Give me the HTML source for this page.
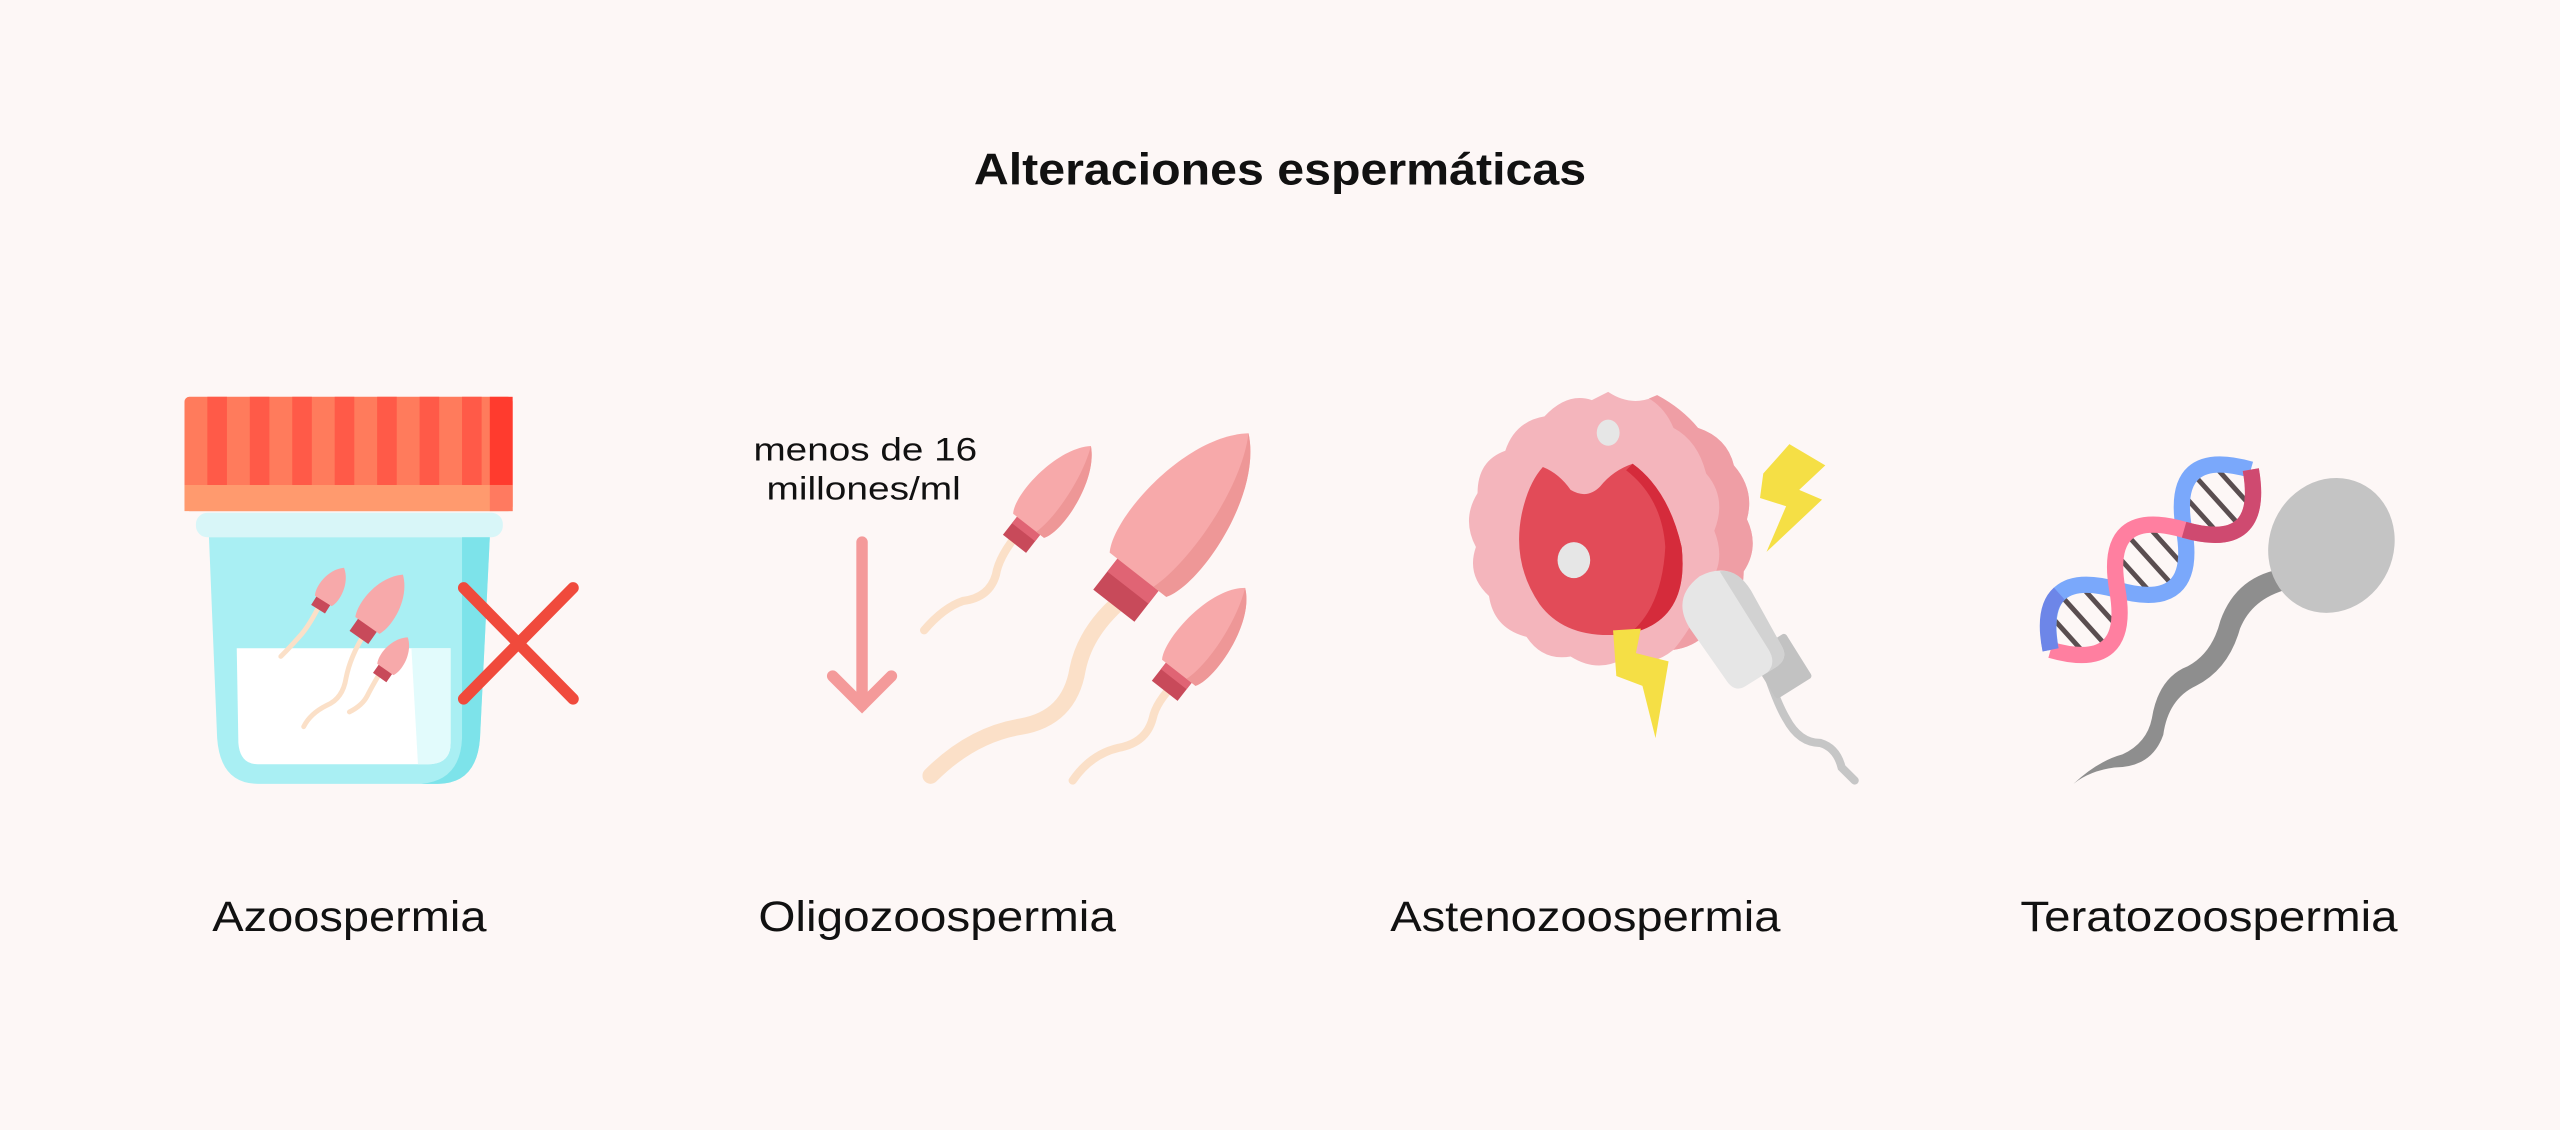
<!DOCTYPE html>
<html><head><meta charset="utf-8"><style>
html,body{margin:0;padding:0;background:#fdf7f6;}
svg{display:block;}
text{font-family:"Liberation Sans",sans-serif;fill:#111;}
</style></head><body>
<svg width="2560" height="1130" viewBox="0 0 1568 692" preserveAspectRatio="none" xmlns="http://www.w3.org/2000/svg">
<rect width="1568" height="692" fill="#fdf7f6"/>
<text x="784" y="113" text-anchor="middle" font-size="27" font-weight="bold" textLength="375" lengthAdjust="spacingAndGlyphs">Alteraciones espermáticas</text>

<!-- JAR -->
<rect x="113" y="243" width="201" height="70" rx="3" fill="#ff7b5c"/>
<g fill="#ff5a48">
<rect x="127" y="243" width="12" height="54"/><rect x="153" y="243" width="12" height="54"/><rect x="179" y="243" width="12" height="54"/><rect x="205" y="243" width="12" height="54"/><rect x="231" y="243" width="12" height="54"/><rect x="257" y="243" width="12" height="54"/><rect x="283" y="243" width="12" height="54"/>
</g>
<rect x="300" y="243" width="14" height="54" fill="#ff3b2e"/>
<rect x="113" y="297" width="201" height="16" fill="#ff9a6e"/>
<rect x="300" y="297" width="14" height="16" fill="#ff7a60"/>
<rect x="120" y="314" width="188" height="15" rx="7" fill="#d8f6f8"/>
<path d="M128,329 H300 L294,452 Q292,480 268,480 H158 Q135,480 133,452 Z" fill="#a9eff3"/>
<path d="M283,329 H300 L294,452 Q292,480 268,480 H258 Q282,478 283,452 Z" fill="#7de3ea"/>
<path d="M145,397 H276 V455 Q276,468 262,468 H158 Q147,468 146,455 Z" fill="#ffffff"/>
<path d="M252,397 H276 V455 Q276,468 262,468 H256 Z" fill="#e2fbfc"/>
<g fill="none" stroke="#fbe0c8" stroke-width="3" stroke-linecap="round">
<path d="M196,370 Q190,382 185,388 Q178,396 172,402"/>
<path d="M226,384 Q215,400 212,415 Q210,428 200,432 Q190,437 186,445"/>
<path d="M234,410 Q228,420 225,426 Q222,432 214,436"/>
</g>
<g transform="translate(198,368) rotate(32)"><rect x="-5" y="-2" width="10" height="8" fill="#c84a5a"/><path d="M0,-24 C8,-18 9,-5 6,0 L-6,0 C-9,-5 -8,-18 0,-24Z" fill="#f7a9aa"/></g>
<g transform="translate(225,383) rotate(35)"><rect x="-7" y="-2" width="14" height="11" fill="#c84a5a"/><path d="M0,-38 C12,-28 13,-8 9,0 L-9,0 C-13,-8 -12,-28 0,-38Z" fill="#f7a9aa"/></g>
<g transform="translate(236,410) rotate(35)"><rect x="-5" y="-2" width="10" height="8" fill="#c84a5a"/><path d="M0,-24 C8,-18 9,-5 6,0 L-6,0 C-9,-5 -8,-18 0,-24Z" fill="#f7a9aa"/></g>
<g stroke="#f04a3c" stroke-width="7" stroke-linecap="round"><line x1="284" y1="360" x2="351" y2="428"/><line x1="351" y1="360" x2="284" y2="428"/></g>
<text x="214" y="570" text-anchor="middle" font-size="26" textLength="168" lengthAdjust="spacingAndGlyphs">Azoospermia</text>

<!-- OLIGO -->
<text x="530" y="282" text-anchor="middle" font-size="20" textLength="137" lengthAdjust="spacingAndGlyphs">menos de 16</text>
<text x="529" y="306" text-anchor="middle" font-size="20" textLength="119" lengthAdjust="spacingAndGlyphs">millones/ml</text>
<g stroke="#f49a9a" stroke-width="7" stroke-linecap="round" fill="none"><line x1="528" y1="332" x2="528" y2="432"/><polyline points="510,414 528,432 546,414"/></g>
<g fill="none" stroke="#fbe0c8" stroke-linecap="round">
<path d="M625,325 Q612,340 610,352 Q606,366 590,368 Q578,372 566,386" stroke-width="5"/>
<path d="M690,365 Q665,385 660,410 Q655,440 625,445 Q595,450 570,475" stroke-width="10"/>
<path d="M720,418 Q708,430 706,440 Q702,455 685,458 Q668,462 657,478" stroke-width="5"/>
</g>
<g transform="translate(630,322) rotate(38)"><rect x="-9" y="-2" width="18" height="16" fill="#c84a5a"/><rect x="-9" y="-2" width="18" height="7" fill="#e06474"/><path d="M0,-62 C16,-48 19,-10 12,0 L-12,0 C-19,-10 -16,-48 0,-62Z" fill="#f7a9aa"/><path d="M0,-62 C16,-48 19,-10 12,0 L6,0 C10,-14 8,-44 0,-62Z" fill="#ee9797"/></g>
<g transform="translate(697,352) rotate(38)"><rect x="-16" y="-2" width="32" height="26" fill="#c84a5a"/><rect x="-16" y="-2" width="32" height="12" fill="#e06474"/><path d="M0,-110 C30,-85 34,-18 22,0 L-22,0 C-34,-18 -30,-85 0,-110Z" fill="#f7a9aa"/><path d="M0,-110 C30,-85 34,-18 22,0 L12,0 C20,-24 18,-80 0,-110Z" fill="#ee9797"/></g>
<g transform="translate(722,412) rotate(38)"><rect x="-10" y="-2" width="20" height="16" fill="#c84a5a"/><rect x="-10" y="-2" width="20" height="7" fill="#e06474"/><path d="M0,-66 C18,-52 20,-10 13,0 L-13,0 C-20,-10 -18,-52 0,-66Z" fill="#f7a9aa"/><path d="M0,-66 C18,-52 20,-10 13,0 L6,0 C11,-14 9,-46 0,-66Z" fill="#ee9797"/></g>
<text x="574" y="570" text-anchor="middle" font-size="26" textLength="219" lengthAdjust="spacingAndGlyphs">Oligozoospermia</text>

<!-- ASTENO -->
<path d="M985,240 Q1000,250 1015,242 Q1030,250 1040,262 Q1058,268 1062,285 Q1075,300 1070,318 Q1078,335 1068,350 Q1068,370 1050,378 Q1045,395 1025,398 Q1010,410 993,404 Q978,412 962,402 Q945,405 935,390 Q915,385 912,365 Q898,352 904,335 Q895,318 905,302 Q905,282 922,276 Q928,258 946,255 Q960,240 975,245 Z" fill="#f4b5bc"/>
<path d="M1015,242 Q1030,250 1040,262 Q1058,268 1062,285 Q1075,300 1070,318 Q1078,335 1068,350 Q1068,370 1050,378 Q1045,395 1025,398 Q1040,380 1045,360 Q1058,345 1050,325 Q1058,305 1045,290 Q1040,270 1025,262 Q1020,250 1010,244Z" fill="#ef9ea5"/>
<path d="M945,286 Q955,290 962,300 Q972,306 980,298 Q988,288 1000,284 Q1022,300 1030,335 Q1035,380 998,388 Q960,393 943,370 Q926,345 932,315 Q936,296 945,286Z" fill="#e24b58"/>
<path d="M1000,284 Q1022,300 1030,335 Q1035,380 998,388 Q1018,372 1020,335 Q1018,305 996,288Z" fill="#d52b3b"/>
<ellipse cx="985" cy="265" rx="7" ry="8" fill="#e6e6e6"/>
<ellipse cx="964" cy="343" rx="10" ry="11" fill="#e6e6e6"/>
<path d="M1080,290 L1096,272 L1118,285 L1102,300 L1116,306 L1082,338 L1094,310 L1078,305Z" fill="#f5df45"/>
<path d="M988,386 L1005,385 L1002,400 L1022,405 L1014,452 L1006,420 L990,414Z" fill="#f5df45"/>
<path d="M1080,405 Q1088,430 1094,440 Q1102,455 1115,455 Q1125,458 1128,470 L1136,478" fill="none" stroke="#c6c6c6" stroke-width="5" stroke-linecap="round"/>
<g transform="translate(1058,380) rotate(-32)"><rect x="0" y="25" width="26" height="32" rx="2" fill="#c2c2c2"/><path d="M-22,-8 Q-22,-30 0,-32 Q22,-30 22,-8 L20,30 Q20,40 10,40 H-12 Q-20,40 -20,30Z" fill="#e6e6e6"/><path d="M12,-28 Q22,-24 22,-8 L20,30 Q20,40 10,40 H4 Q12,38 12,28Z" fill="#d2d2d2"/></g>
<text x="971" y="570" text-anchor="middle" font-size="26" textLength="239" lengthAdjust="spacingAndGlyphs">Astenozoospermia</text>

<!-- TERATO -->
<g transform="translate(1256,398) rotate(-42)">
<g stroke="#5a4e50" stroke-width="3">
<line x1="14" y1="-14" x2="14" y2="14"/><line x1="27" y1="-18" x2="27" y2="18"/><line x1="40" y1="-14" x2="40" y2="14"/>
<line x1="69" y1="-14" x2="69" y2="14"/><line x1="82" y1="-18" x2="82" y2="18"/><line x1="95" y1="-14" x2="95" y2="14"/>
<line x1="124" y1="-14" x2="124" y2="14"/><line x1="137" y1="-18" x2="137" y2="18"/><line x1="150" y1="-14" x2="150" y2="14"/>
</g>
<path d="M0,0 Q27.5,-44 55,0 Q82.5,44 110,0 Q137.5,-44 165,0" fill="none" stroke="#7aa8fb" stroke-width="10"/>
<path d="M0,0 Q27.5,44 55,0 Q82.5,-44 110,0 Q137.5,44 165,0" fill="none" stroke="#ff7fa0" stroke-width="10"/>
<path d="M110,0 Q137.5,44 165,0" fill="none" stroke="#cf4a70" stroke-width="10"/>
<path d="M0,0 Q13,-22 27,-22" fill="none" stroke="#6d86e8" stroke-width="10"/>
</g>
<path d="M1405,360 Q1380,365 1372,385 Q1365,410 1345,420 Q1328,428 1325,450 Q1318,470 1295,470 Q1280,472 1270,480 Q1285,466 1300,462 Q1315,455 1318,440 Q1322,415 1340,408 Q1355,400 1360,380 Q1370,352 1400,348Z" fill="#8e8e8e"/>
<ellipse cx="1428" cy="334" rx="38" ry="42" transform="rotate(25 1428 334)" fill="#c4c4c4"/>
<text x="1353" y="570" text-anchor="middle" font-size="26" textLength="231" lengthAdjust="spacingAndGlyphs">Teratozoospermia</text>
</svg>
</body></html>
